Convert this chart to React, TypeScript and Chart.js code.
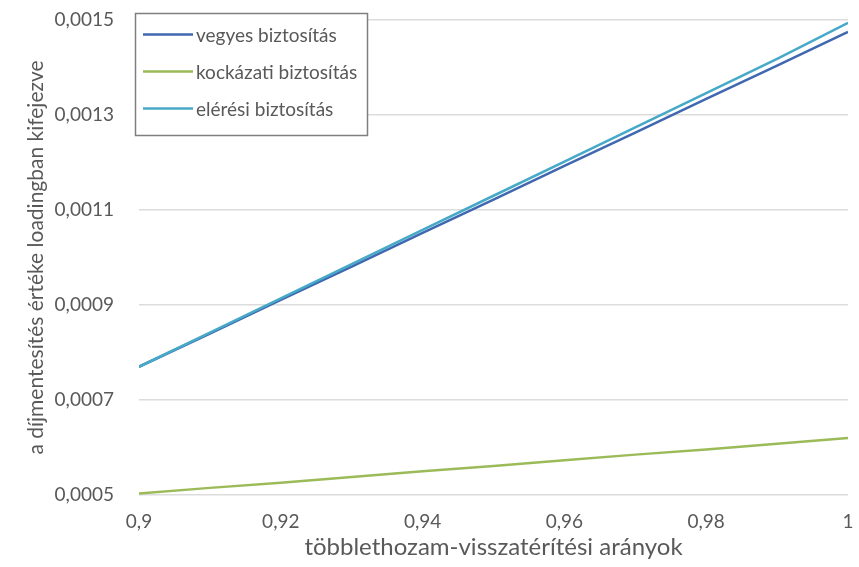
import React, { useEffect, useRef } from "react";
import { Chart, registerables } from "chart.js";

Chart.register(...registerables);

const xValues = [0.9, 0.91, 0.92, 0.93, 0.94, 0.95, 0.96, 0.97, 0.98, 0.99, 1.0];
const vegyes = [0.00077, 0.00084, 0.000911, 0.000981, 0.001052, 0.001122, 0.001193, 0.001263, 0.001334, 0.001404, 0.001475];
const kockazati = [0.000503, 0.000515, 0.000526, 0.000538, 0.00055, 0.000561, 0.000573, 0.000585, 0.000596, 0.000608, 0.00062];
const eleresi = [0.00077, 0.000842, 0.000914, 0.000986, 0.001058, 0.00113, 0.001202, 0.001274, 0.001346, 0.001418, 0.001494];
const seriesLabels = ["vegyes biztosítás", "kockázati biztosítás", "elérési biztosítás"];
const seriesColors = ["#3f68b0", "#9bbb59", "#47a9c8"];
const xTicks = [0.9, 0.92, 0.94, 0.96, 0.98, 1];
const yTicks = [0.0005, 0.0007, 0.0009, 0.0011, 0.0013, 0.0015];
const xTitle = "többlethozam-visszatérítési arányok";
const yTitle = "a díjmentesítés értéke loadingban kifejezve";

const FONT = "Lato, 'Open Sans', sans-serif";
const TEXT = "#595959";

const boxLegend = {
  id: "boxLegend",
  afterDraw(chart: any) {
    const ctx = chart.ctx as CanvasRenderingContext2D;
    const ds = chart.data.datasets;
    const bx = 135.5, by = 13.5, bw = 232, bh = 122;
    ctx.save();
    ctx.fillStyle = "#ffffff";
    ctx.fillRect(bx, by, bw, bh);
    ctx.strokeStyle = "#7f7f7f";
    ctx.lineWidth = 1.5;
    ctx.strokeRect(bx, by, bw, bh);
    const rows = [34, 71, 108];
    ctx.font = `19px ${FONT}`;
    ctx.textBaseline = "middle";
    ctx.textAlign = "left";
    ds.forEach((d: any, i: number) => {
      const y = by + rows[i] - 13;
      ctx.strokeStyle = d.borderColor;
      ctx.lineWidth = 2.5;
      ctx.beginPath();
      ctx.moveTo(143, y);
      ctx.lineTo(193, y);
      ctx.stroke();
      ctx.fillStyle = TEXT;
      ctx.fillText(d.label, 196, y + 1);
    });
    ctx.restore();
  },
};

export default function App() {
  const ref = useRef<HTMLCanvasElement | null>(null);
  useEffect(() => {
    if (!ref.current) return;
    const series = [vegyes, kockazati, eleresi];
    const orders = [1, 2, 0];
    const chart = new Chart(ref.current, {
      type: "line",
      data: {
        datasets: series.map((s, i) => ({
          label: seriesLabels[i],
          data: xValues.map((x, j) => ({ x, y: s[j] })),
          borderColor: seriesColors[i],
          backgroundColor: seriesColors[i],
          borderWidth: 2.5,
          pointRadius: 0,
          tension: 0,
          fill: false,
          order: orders[i],
        })),
      },
      options: {
        responsive: false,
        animation: false,
        devicePixelRatio: 1,
        layout: { padding: { top: 20, right: 11, left: 0, bottom: 0 } },
        plugins: { legend: { display: false }, tooltip: { enabled: false } },
        scales: {
          x: {
            type: "linear",
            min: 0.9,
            max: 1,
            afterBuildTicks: (scale: any) => {
              scale.ticks = xTicks.map((v) => ({ value: v }));
            },
            afterFit: (scale: any) => {
              scale.height = 72;
              scale.paddingLeft = 0;
              scale.paddingRight = 0;
            },
            grid: { display: false, drawTicks: false },
            border: { display: false },
            ticks: {
              padding: 15,
              color: TEXT,
              font: { family: FONT, size: 19 },
              maxRotation: 0,
              callback: (v: any) => String(Number(Number(v).toFixed(2))).replace(".", ","),
            },
            title: {
              display: true,
              text: xTitle,
              color: TEXT,
              font: { family: FONT, size: 24 },
              padding: { top: 5, bottom: 5 },
            },
          },
          y: {
            type: "linear",
            min: 0.0005,
            max: 0.0015,
            afterBuildTicks: (scale: any) => {
              scale.ticks = yTicks.map((v) => ({ value: v }));
            },
            afterFit: (scale: any) => {
              scale.width = 139;
              scale.paddingTop = 0;
              scale.paddingBottom = 0;
            },
            grid: { color: "#dcdcdc", lineWidth: 1.5, drawTicks: false },
            border: { display: false },
            ticks: {
              padding: 25,
              color: TEXT,
              font: { family: FONT, size: 19 },
              callback: (v: any) => Number(v).toFixed(4).replace(".", ","),
            },
            title: {
              display: true,
              text: yTitle,
              color: TEXT,
              font: { family: FONT, size: 21 },
              padding: { top: 24, bottom: 24 },
            },
          },
        },
      },
      plugins: [boxLegend],
    });
    return () => chart.destroy();
  }, []);
  return (
    <div style={{ position: "absolute", left: 0, top: 0, width: 859, height: 567, background: "#fff" }}>
      <canvas ref={ref} width={859} height={567} />
    </div>
  );
}
